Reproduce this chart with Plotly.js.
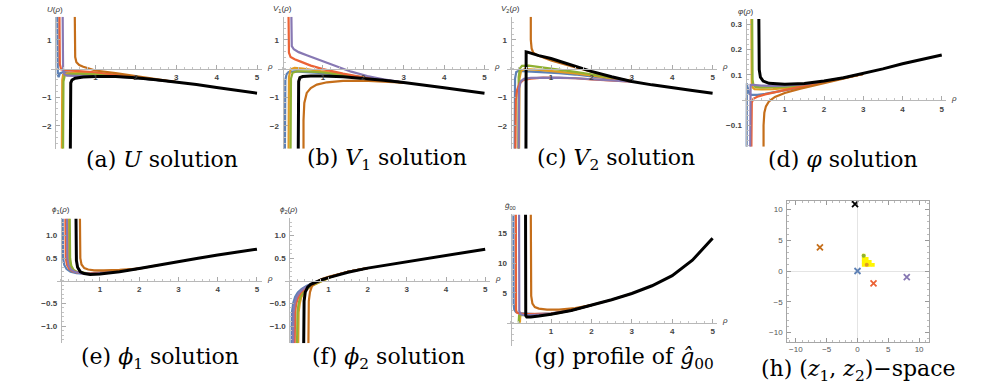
<!DOCTYPE html>
<html>
<head>
<meta charset="utf-8">
<script src="https://cdn.plot.ly/plotly-3.0.1.min.js"></script>
<style>
  body { margin: 0; background: #ffffff; }
  #fig { width: 996px; height: 386px; }
</style>
</head>
<body>
<div id="fig"></div>
<script>
// Mathematica default colours, in plot order
const blue = '#5E81B5', gold = '#E19C24', green = '#8FB032', red = '#EB6235',
      purple = '#8778B3', brown = '#C56E1A', black = '#000000';

// (a) U(rho)
const aBlueX = [0.06, 0.06, 0.062, 0.07, 0.09, 0.12, 0.2, 0.5, 1, 1.5, 2, 2.5, 3];
const aBlueY = [1.8, 0.5, 0.0, -0.22, -0.3, -0.17, -0.13, -0.15, -0.2, -0.26, -0.33, -0.4, -0.47];
const aGoldX = [0.17, 0.17, 0.18, 0.2, 0.3, 0.5, 1, 1.5, 2, 2.5, 3];
const aGoldY = [-2.8, -1.0, -0.4, -0.22, -0.17, -0.16, -0.17, -0.24, -0.32, -0.4, -0.47];
const aGreenX = [0.2, 0.2, 0.21, 0.24, 0.35, 0.6, 1, 1.5, 2, 2.5, 3];
const aGreenY = [-2.8, -1.0, -0.45, -0.25, -0.2, -0.19, -0.2, -0.25, -0.33, -0.4, -0.47];
const aRedX = [0.11, 0.11, 0.12, 0.15, 0.25, 0.5, 1, 1.5, 2, 2.5, 3];
const aRedY = [1.8, 0.6, 0.15, -0.03, -0.06, -0.08, -0.13, -0.22, -0.31, -0.4, -0.47];
const aPurpleX = [0.19, 0.19, 0.2, 0.23, 0.3, 0.5, 1, 1.5, 2, 2.5, 3];
const aPurpleY = [1.8, 0.5, 0.0, -0.2, -0.25, -0.26, -0.26, -0.28, -0.33, -0.4, -0.47];
const aBrownX = [0.49, 0.49, 0.5, 0.53, 0.6, 0.7, 0.85, 1, 1.5, 2, 2.5, 3];
const aBrownY = [1.8, 0.8, 0.4, 0.22, 0.12, 0.06, 0.0, -0.07, -0.16, -0.27, -0.38, -0.47];
const aBlackX = [0.38, 0.38, 0.39, 0.42, 0.5, 0.7, 1, 1.5, 2, 2.5, 3, 3.5, 4, 4.5, 5];
const aBlackY = [-2.8, -1.0, -0.5, -0.4, -0.34, -0.3, -0.28, -0.28, -0.32, -0.39, -0.47, -0.56, -0.66, -0.76, -0.86];

// (b) V1(rho)
const bBlueX = [0.06, 0.06, 0.07, 0.1, 0.15, 0.3, 0.6, 1, 1.5, 2, 2.5, 3];
const bBlueY = [-2.8, -1.0, -0.4, -0.2, -0.12, -0.1, -0.12, -0.16, -0.24, -0.32, -0.41, -0.49];
const bGoldX = [0.15, 0.15, 0.16, 0.2, 0.3, 0.5, 0.8, 1.2, 1.6, 2, 2.5, 3];
const bGoldY = [-2.8, -1.0, -0.3, -0.03, 0.02, 0.0, -0.06, -0.14, -0.24, -0.32, -0.41, -0.49];
const bGreenX = [0.2, 0.2, 0.21, 0.25, 0.35, 0.6, 1, 1.5, 2, 2.5, 3];
const bGreenY = [-2.8, -1.0, -0.35, -0.15, -0.1, -0.1, -0.14, -0.23, -0.32, -0.41, -0.49];
const bRedX = [0.15, 0.15, 0.16, 0.2, 0.3, 0.45, 0.7, 1, 1.5, 2, 2.5, 3];
const bRedY = [1.8, 0.9, 0.55, 0.4, 0.32, 0.24, 0.1, -0.02, -0.18, -0.31, -0.41, -0.49];
const bPurpleX = [0.22, 0.22, 0.23, 0.28, 0.4, 0.6, 0.9, 1.3, 1.7, 2.1, 2.5, 3];
const bPurpleY = [1.8, 1.0, 0.78, 0.67, 0.57, 0.46, 0.3, 0.08, -0.11, -0.26, -0.38, -0.49];
const bBrownX = [0.52, 0.52, 0.54, 0.6, 0.7, 0.85, 1.1, 1.5, 2, 2.5, 3];
const bBrownY = [-2.8, -1.8, -1.2, -0.85, -0.68, -0.56, -0.48, -0.43, -0.42, -0.45, -0.49];
const bBlackX = [0.39, 0.39, 0.4, 0.43, 0.5, 0.7, 1, 1.5, 2, 2.5, 3, 3.5, 4, 4.5, 5];
const bBlackY = [-2.8, -1.0, -0.45, -0.32, -0.28, -0.26, -0.26, -0.29, -0.34, -0.41, -0.49, -0.57, -0.67, -0.77, -0.86];

// (c) V2(rho)
const cBlueX = [0.1, 0.1, 0.11, 0.14, 0.2, 0.4, 0.8, 1.2, 1.6, 2, 2.5, 3];
const cBlueY = [-2.8, -1.0, -0.35, -0.12, -0.08, -0.1, -0.12, -0.16, -0.21, -0.27, -0.36, -0.45];
const cGoldX = [0.21, 0.21, 0.22, 0.26, 0.35, 0.7, 1.1, 1.6, 2, 2.5, 3];
const cGoldY = [-2.8, -1.0, -0.35, -0.08, -0.02, -0.05, -0.1, -0.17, -0.24, -0.34, -0.45];
const cGreenX = [0.19, 0.19, 0.2, 0.23, 0.28, 0.45, 0.8, 1.2, 1.6, 2, 2.5, 3];
const cGreenY = [-2.8, -1.0, -0.3, 0.0, 0.09, 0.1, 0.04, -0.04, -0.12, -0.2, -0.32, -0.45];
const cRedX = [0.12, 0.12, 0.13, 0.16, 0.22, 0.32, 0.5, 0.8, 1.2, 1.6, 2, 2.5, 3];
const cRedY = [-2.8, -1.6, -1.1, -0.75, -0.52, -0.4, -0.35, -0.32, -0.32, -0.34, -0.38, -0.42, -0.46];
const cPurpleX = [0.2, 0.2, 0.21, 0.25, 0.33, 0.5, 0.8, 1.2, 1.6, 2, 2.5, 3];
const cPurpleY = [-2.8, -1.3, -0.7, -0.45, -0.36, -0.33, -0.32, -0.32, -0.34, -0.37, -0.42, -0.46];
const cBrownX = [0.5, 0.5, 0.52, 0.56, 0.65, 0.8, 1, 1.5, 2, 2.5, 3];
const cBrownY = [1.8, 1.0, 0.7, 0.55, 0.47, 0.38, 0.28, 0.08, -0.12, -0.3, -0.45];
const cBlackX = [0.38, 0.38, 0.385, 0.42, 0.5, 0.7, 1, 1.5, 2, 2.5, 3, 3.5, 4, 4.5, 5];
const cBlackY = [-2.8, 0.0, 0.58, 0.57, 0.53, 0.45, 0.35, 0.12, -0.1, -0.29, -0.45, -0.57, -0.68, -0.77, -0.86];

// (d) varphi(rho)
const dBlueX = [0.03, 0.03, 0.035, 0.05, 0.1, 0.15, 0.3, 0.5, 0.8, 1.2, 1.6, 2, 2.5, 3];
const dBlueY = [-0.185, 0.0, 0.066, 0.05, 0.025, 0.02, 0.02, 0.024, 0.032, 0.043, 0.056, 0.07, 0.086, 0.103];
const dGoldX = [0.15, 0.15, 0.16, 0.18, 0.23, 0.4, 0.7, 1, 1.5, 2, 2.5, 3];
const dGoldY = [0.32, 0.15, 0.07, 0.05, 0.043, 0.042, 0.043, 0.047, 0.058, 0.072, 0.087, 0.103];
const dGreenX = [0.17, 0.17, 0.18, 0.2, 0.25, 0.4, 0.7, 1, 1.5, 2, 2.5, 3];
const dGreenY = [0.32, 0.15, 0.08, 0.06, 0.052, 0.05, 0.05, 0.052, 0.06, 0.073, 0.088, 0.103];
const dRedX = [0.15, 0.15, 0.16, 0.2, 0.3, 0.5, 0.8, 1.2, 1.6, 2, 2.5, 3];
const dRedY = [-0.185, -0.05, -0.01, 0.005, 0.013, 0.022, 0.033, 0.046, 0.058, 0.07, 0.086, 0.103];
const dPurpleX = [0.12, 0.12, 0.13, 0.2, 0.4, 0.7, 1, 1.5, 2, 2.5, 3];
const dPurpleY = [-0.185, 0.02, 0.06, 0.06, 0.057, 0.056, 0.057, 0.063, 0.074, 0.088, 0.103];
const dBrownX = [0.46, 0.46, 0.48, 0.52, 0.6, 0.75, 1, 1.4, 2, 2.5, 3];
const dBrownY = [-0.185, -0.1, -0.05, -0.025, -0.005, 0.012, 0.028, 0.045, 0.066, 0.085, 0.103];
const dBlackX = [0.34, 0.34, 0.35, 0.38, 0.45, 0.6, 0.8, 1, 1.5, 2, 2.5, 3, 3.5, 4, 4.5, 5];
const dBlackY = [0.32, 0.2, 0.12, 0.09, 0.075, 0.066, 0.063, 0.062, 0.065, 0.075, 0.088, 0.105, 0.123, 0.143, 0.16, 0.178];

// (e) phi1(rho)
const eBlueX = [0.05, 0.05, 0.06, 0.09, 0.15, 0.25, 0.4, 0.6, 0.9, 1.3, 2];
const eBlueY = [1.38, 0.8, 0.5, 0.35, 0.26, 0.2, 0.17, 0.16, 0.17, 0.2, 0.27];
const eGoldX = [0.2, 0.2, 0.21, 0.24, 0.3, 0.4, 0.55, 0.75, 1, 1.4, 2];
const eGoldY = [1.38, 0.8, 0.5, 0.33, 0.24, 0.19, 0.17, 0.16, 0.17, 0.2, 0.27];
const eGreenX = [0.23, 0.23, 0.24, 0.27, 0.33, 0.43, 0.58, 0.78, 1, 1.4, 2];
const eGreenY = [1.38, 0.8, 0.5, 0.33, 0.24, 0.19, 0.17, 0.16, 0.17, 0.2, 0.27];
const eRedX = [0.12, 0.12, 0.13, 0.16, 0.22, 0.3, 0.45, 0.65, 0.9, 1.3, 2];
const eRedY = [1.38, 0.8, 0.5, 0.35, 0.26, 0.21, 0.18, 0.16, 0.17, 0.2, 0.27];
const ePurpleX = [0.16, 0.16, 0.17, 0.2, 0.26, 0.35, 0.5, 0.7, 0.95, 1.3, 2];
const ePurpleY = [1.38, 0.8, 0.5, 0.34, 0.25, 0.2, 0.17, 0.16, 0.165, 0.2, 0.27];
const eBrownX = [0.49, 0.49, 0.5, 0.53, 0.6, 0.7, 0.85, 1.1, 1.5, 2, 2.5];
const eBrownY = [1.38, 0.8, 0.5, 0.36, 0.28, 0.25, 0.23, 0.23, 0.24, 0.27, 0.35];
const eBlackX = [0.39, 0.39, 0.4, 0.43, 0.5, 0.6, 0.75, 1, 1.5, 2, 2.5, 3, 3.5, 4, 4.5, 5];
const eBlackY = [1.38, 0.8, 0.45, 0.3, 0.2, 0.16, 0.14, 0.15, 0.2, 0.27, 0.35, 0.43, 0.5, 0.57, 0.64, 0.7];

// (f) phi2(rho)
const fRiseY = [-1.38, -1.0, -0.7, -0.5, -0.36, -0.26, -0.18, -0.11, -0.05, 0.02, 0.08, 0.2, 0.28];
const fBlueX = [0.06, 0.06, 0.07, 0.1, 0.15, 0.22, 0.32, 0.45, 0.6, 0.8, 1, 1.5, 2];
const fGoldX = [0.23, 0.23, 0.24, 0.27, 0.31, 0.38, 0.47, 0.58, 0.72, 0.88, 1.05, 1.5, 2];
const fGreenX = [0.2, 0.2, 0.21, 0.24, 0.28, 0.35, 0.44, 0.56, 0.7, 0.87, 1.04, 1.5, 2];
const fRedX = [0.14, 0.14, 0.15, 0.18, 0.23, 0.3, 0.4, 0.52, 0.66, 0.84, 1.02, 1.5, 2];
const fPurpleX = [0.1, 0.1, 0.11, 0.14, 0.19, 0.26, 0.36, 0.49, 0.63, 0.82, 1, 1.5, 2];
const fBrownX = [0.49, 0.49, 0.5, 0.53, 0.58, 0.65, 0.8, 1, 1.5, 2];
const fBrownY = [-1.38, -0.8, -0.45, -0.25, -0.12, -0.05, 0.03, 0.09, 0.2, 0.28];
const fBlackX = [0.37, 0.37, 0.38, 0.41, 0.47, 0.55, 0.7, 0.85, 1, 1.5, 2, 2.5, 3, 3.5, 4, 4.5, 5];
const fBlackY = [-1.38, -0.8, -0.45, -0.25, -0.14, -0.08, -0.02, 0.03, 0.07, 0.19, 0.28, 0.35, 0.42, 0.5, 0.57, 0.64, 0.7];

// (g) g00 profile
const gBlueX = [0.07, 0.07, 0.075, 0.09, 0.13, 0.2, 0.35, 0.6, 1, 1.5, 2];
const gBlueY = [18.2, 6, 3.2, 2.2, 1.8, 1.6, 1.5, 1.45, 1.55, 2.05, 2.95];
const gGoldX = [0.23, 0.23, 0.24, 0.28, 0.4, 0.7, 1, 1.5, 2];
const gGoldY = [0.0, 0.9, 1.25, 1.3, 1.3, 1.3, 1.42, 2.05, 2.95];
const gGreenX = [0.2, 0.2, 0.21, 0.25, 0.35, 0.6, 1, 1.5, 2];
const gGreenY = [0.0, 0.9, 1.2, 1.25, 1.25, 1.25, 1.4, 2.05, 2.95];
const gRedX = [0.13, 0.13, 0.135, 0.15, 0.2, 0.35, 0.6, 1, 1.5, 2];
const gRedY = [18.2, 5, 2.2, 1.7, 1.55, 1.45, 1.42, 1.5, 2.05, 2.95];
const gPurpleX = [0.21, 0.21, 0.215, 0.24, 0.3, 0.45, 0.7, 1, 1.5, 2];
const gPurpleY = [18.2, 5, 2, 1.45, 1.3, 1.25, 1.28, 1.42, 2.05, 2.95];
const gBrownX = [0.5, 0.5, 0.51, 0.54, 0.6, 0.7, 0.9, 1.2, 1.6, 2, 2.5, 3];
const gBrownY = [18.2, 8, 4.5, 3.2, 2.6, 2.35, 2.2, 2.2, 2.45, 2.95, 3.85, 4.9];
const gBlackX = [0.37, 0.37, 0.375, 0.4, 0.5, 0.7, 1, 1.5, 2, 2.5, 3, 3.5, 4, 4.5, 5];
const gBlackY = [18.2, 5, 1.2, 0.95, 0.95, 1.1, 1.4, 2.05, 2.95, 3.85, 4.9, 6.2, 7.9, 10.5, 14.2];

// (h) (z1, z2) space
const hPoleX = [0, -6.1, -0.4, 2.6, 8.0];
const hPoleY = [0, 3.85, 10.9, -2.0, -1.0];
const hPoleColor = [blue, brown, black, red, purple];
const hCellX = [1, 1.5, 2, 2.5, 1, 1.5, 2, 1, 1.5, 1];
const hCellY = [1, 1, 1, 1, 1.5, 1.5, 1.5, 2, 2, 2.5];
const hDotX = [1, 1.5];
const hDotY = [2.5, 1];
const hDotColor = [green, gold];

const W = 996, H = 386;

// pixel placement of each Mathematica panel: origin (ox, oy) and px per unit (sx, sy)
const panels = [
  { ox: 55, sx: 40.4, oy: 68.5, sy: 28.7, xr: [-0.1, 5.12], yr: [-2.8, 1.8], yt: [-2, -1, 1], fmt: '', dy: 0.2,
    lab: '<i>U</i>(<i>ρ</i>)', cap: '(a) <i>U</i> solution', cx: 162, cy: 160,
    lines: [[aBlueX, aBlueY], [aGoldX, aGoldY], [aGreenX, aGreenY], [aRedX, aRedY], [aPurpleX, aPurpleY], [aBrownX, aBrownY], [aBlackX, aBlackY]] },
  { ox: 282.5, sx: 40.4, oy: 68.5, sy: 28.7, xr: [-0.1, 5.12], yr: [-2.8, 1.8], yt: [-2, -1, 1], fmt: '', dy: 0.2,
    lab: '<i>V</i><sub>1</sub>(<i>ρ</i>)', cap: '(b) <i>V</i><sub>1</sub> solution', cx: 387, cy: 160,
    lines: [[bBlueX, bBlueY], [bGoldX, bGoldY], [bGreenX, bGreenY], [bRedX, bRedY], [bPurpleX, bPurpleY], [bBrownX, bBrownY], [bBlackX, bBlackY]] },
  { ox: 510.6, sx: 40.4, oy: 68.5, sy: 28.7, xr: [-0.1, 5.12], yr: [-2.8, 1.8], yt: [-2, -1, 1], fmt: '', dy: 0.2,
    lab: '<i>V</i><sub>2</sub>(<i>ρ</i>)', cap: '(c) <i>V</i><sub>2</sub> solution', cx: 616, cy: 160,
    lines: [[cBlueX, cBlueY], [cGoldX, cGoldY], [cGreenX, cGreenY], [cRedX, cRedY], [cPurpleX, cPurpleY], [cBrownX, cBrownY], [cBlackX, cBlackY]] },
  { ox: 745.5, sx: 39.25, oy: 100, sy: 253, xr: [-0.1, 5.12], yr: [-0.185, 0.32], yt: [-0.1, 0.1, 0.2, 0.3], fmt: '.1f', dy: 0.02,
    lab: '<i>φ</i>(<i>ρ</i>)', cap: '(d) <i>φ</i> solution', cx: 843, cy: 160,
    lines: [[dBlueX, dBlueY], [dGoldX, dGoldY], [dGreenX, dGreenY], [dRedX, dRedY], [dPurpleX, dPurpleY], [dBrownX, dBrownY], [dBlackX, dBlackY]] },
  { ox: 60.7, sx: 39.25, oy: 280.8, sy: 45.2, xr: [-0.1, 5.12], yr: [-1.38, 1.38], yt: [-1, -0.5, 0.5, 1], fmt: '.1f', dy: 0.1,
    lab: '<i>ϕ</i><sub>1</sub>(<i>ρ</i>)', cap: '(e) <i>ϕ</i><sub>1</sub> solution', cx: 160, cy: 358,
    lines: [[eBlueX, eBlueY], [eGoldX, eGoldY], [eGreenX, eGreenY], [eRedX, eRedY], [ePurpleX, ePurpleY], [eBrownX, eBrownY], [eBlackX, eBlackY]] },
  { ox: 289.2, sx: 39.2, oy: 280.8, sy: 45.2, xr: [-0.1, 5.12], yr: [-1.38, 1.38], yt: [-1, -0.5, 0.5, 1], fmt: '.1f', dy: 0.1,
    lab: '<i>ϕ</i><sub>2</sub>(<i>ρ</i>)', cap: '(f) <i>ϕ</i><sub>2</sub> solution', cx: 388, cy: 358,
    lines: [[fBlueX, fRiseY], [fGoldX, fRiseY], [fGreenX, fRiseY], [fRedX, fRiseY], [fPurpleX, fRiseY], [fBrownX, fBrownY], [fBlackX, fBlackY]] },
  { ox: 510.6, sx: 40.4, oy: 322.6, sy: 5.94, xr: [-0.1, 5.12], yr: [-4, 18.2], yt: [5, 10, 15], fmt: '', dy: 1,
    lab: '<i>ĝ</i><sub>00</sub>', cap: '(g) profile of <i>ĝ</i><sub>00</sub>', cx: 624, cy: 358,
    lines: [[gBlueX, gBlueY], [gGoldX, gGoldY], [gGreenX, gGreenY], [gRedX, gRedY], [gPurpleX, gPurpleY], [gBrownX, gBrownY], [gBlackX, gBlackY]] },
];
const lineColors = [blue, gold, green, red, purple, brown, black];

const tickFont = { family: 'Liberation Sans, Arial, sans-serif', size: 8, color: '#444', weight: 'bold' };
const labFont = { family: 'Liberation Sans, Arial, sans-serif', size: 8, color: '#333' };
const capFont = { family: 'DejaVu Serif, serif', size: 22, color: '#000' };

let traces = [];
let layout = {
  width: W, height: H,
  margin: { l: 0, r: 0, t: 0, b: 0 },
  paper_bgcolor: '#ffffff', plot_bgcolor: 'rgba(0,0,0,0)',
  showlegend: false,
  annotations: [],
};

panels.forEach((p, i) => {
  const n = i + 1;
  const xs = n === 1 ? '' : n;
  const xDom = [(p.ox + p.xr[0] * p.sx) / W, (p.ox + p.xr[1] * p.sx) / W];
  const yDom = [1 - (p.oy - p.yr[0] * p.sy) / H, 1 - (p.oy - p.yr[1] * p.sy) / H];
  layout['xaxis' + xs] = {
    domain: xDom, range: p.xr, anchor: 'free', position: 1 - p.oy / H,
    showgrid: false, zeroline: false, showline: true, linecolor: '#b8b8b8', linewidth: 1,
    tickmode: 'array', tickvals: [1, 2, 3, 4, 5], ticks: 'inside', ticklen: 4, tickcolor: '#aaa',
    minor: { tickmode: 'linear', tick0: 0, dtick: 0.2, ticks: 'inside', ticklen: 2, tickcolor: '#c4c4c4' },
    tickfont: tickFont, ticklabelstandoff: 1,
  };
  layout['yaxis' + xs] = {
    domain: yDom, range: p.yr, anchor: 'free', position: p.ox / W,
    showgrid: false, zeroline: false, showline: true, linecolor: '#b8b8b8', linewidth: 1,
    tickmode: 'array', tickvals: p.yt, tickformat: p.fmt, ticks: 'inside', ticklen: 4, tickcolor: '#aaa',
    minor: { tickmode: 'linear', tick0: 0, dtick: p.dy, ticks: 'inside', ticklen: 2, tickcolor: '#c4c4c4' },
    tickfont: tickFont, ticklabelstandoff: 2,
  };
  p.lines.forEach((xy, k) => {
    traces.push({
      type: 'scatter', mode: 'lines', x: xy[0], y: xy[1],
      xaxis: 'x' + xs, yaxis: 'y' + xs,
      line: { color: lineColors[k], width: k === 6 ? 3 : 2.2 },
      hoverinfo: 'skip',
    });
  });
  // y label on top of the axis, rho at the end of the x axis
  layout.annotations.push({
    xref: 'paper', yref: 'paper', x: p.ox / W, y: yDom[1] + 1 / H,
    xanchor: 'center', yanchor: 'bottom', text: p.lab, showarrow: false, font: labFont,
  });
  layout.annotations.push({
    xref: 'paper', yref: 'paper', x: xDom[1] + 3 / W, y: 1 - p.oy / H + 2 / H,
    xanchor: 'left', yanchor: 'middle', text: '<i>ρ</i>', showarrow: false, font: labFont,
  });
  layout.annotations.push({
    xref: 'paper', yref: 'paper', x: p.cx / W, y: 1 - p.cy / H,
    xanchor: 'center', yanchor: 'middle', text: p.cap, showarrow: false, font: capFont,
  });
});

// (h) framed scatter of the z-plane
const hox = 857.5, hsx = 6.16, hoy = 271, hsy = 6.14;
const hxr = [-11.4, 11.55], hyr = [-11.5, 11.4];
const frameAxis = {
  showgrid: false, zeroline: true, zerolinecolor: '#e4e4e4', zerolinewidth: 1,
  showline: true, mirror: 'allticks', linecolor: '#a6a6a6', linewidth: 1,
  tickmode: 'array', tickvals: [-10, -5, 0, 5, 10], ticks: 'inside', ticklen: 4, tickcolor: '#999',
  minor: { tickmode: 'linear', tick0: 0, dtick: 1, ticks: 'inside', ticklen: 2, tickcolor: '#bbb' },
  tickfont: { family: 'Liberation Sans, Arial, sans-serif', size: 8, color: '#555' },
  ticklabelstandoff: 0,
};
layout.xaxis8 = Object.assign({}, frameAxis, {
  domain: [(hox + hxr[0] * hsx) / W, (hox + hxr[1] * hsx) / W], range: hxr, anchor: 'y8',
});
layout.yaxis8 = Object.assign({}, frameAxis, {
  domain: [1 - (hoy - hyr[0] * hsy) / H, 1 - (hoy - hyr[1] * hsy) / H], range: hyr, anchor: 'x8',
  ticklabelstandoff: 2,
});
traces.push({
  type: 'scatter', mode: 'markers', x: hCellX, y: hCellY, xaxis: 'x8', yaxis: 'y8',
  marker: { symbol: 'square', size: 3.6, color: '#FFF500', line: { width: 0 } }, hoverinfo: 'skip',
});
traces.push({
  type: 'scatter', mode: 'markers', x: hDotX, y: hDotY, xaxis: 'x8', yaxis: 'y8',
  marker: { symbol: 'circle', size: 4, color: hDotColor, line: { width: 0 } }, hoverinfo: 'skip',
});
traces.push({
  type: 'scatter', mode: 'markers', x: hPoleX, y: hPoleY, xaxis: 'x8', yaxis: 'y8',
  marker: { symbol: 'x-thin-open', size: 6, color: hPoleColor, line: { width: 1.8, color: hPoleColor } }, hoverinfo: 'skip',
});
layout.annotations.push({
  xref: 'paper', yref: 'paper', x: 858 / W, y: 1 - 370 / H,
  xanchor: 'center', yanchor: 'middle', showarrow: false, font: capFont,
  text: '(h) (<i>z</i><sub>1</sub>, <i>z</i><sub>2</sub>)−space',
});

Plotly.newPlot('fig', traces, layout, { staticPlot: true, displayModeBar: false });
</script>
</body>
</html>
